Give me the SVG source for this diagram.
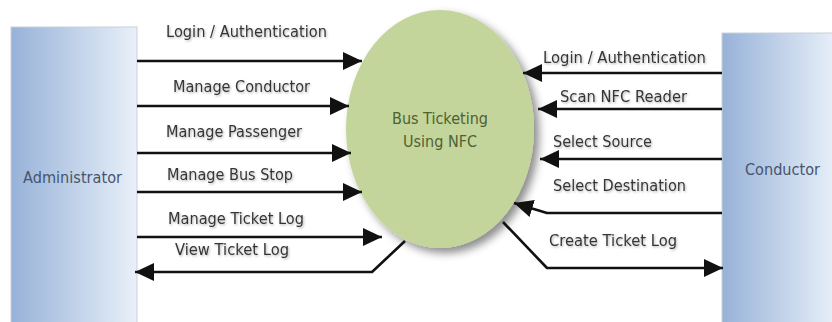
<svg xmlns="http://www.w3.org/2000/svg" width="832" height="322" viewBox="0 0 832 322">
<style>
.lbl{font-family:"DejaVu Sans","Verdana",sans-serif;font-size:15.5px;fill:#363636;filter:url(#tsh)}
.ent{font-family:"DejaVu Sans","Verdana",sans-serif;font-size:15.5px;fill:#46556c}
.proc{font-family:"DejaVu Sans","Verdana",sans-serif;font-size:15.5px;fill:#4f6133}
.flow{fill:none;stroke:#111;stroke-width:2.6;stroke-linejoin:round}
.box{fill:url(#bg);stroke:#c9d0da;stroke-width:1}
</style>
<defs>
<linearGradient id="bg" x1="0" y1="0" x2="1" y2="0">
<stop offset="0" stop-color="#97b2d8"/>
<stop offset="1" stop-color="#e9f0f9"/>
</linearGradient>
<filter id="tsh" x="-10%" y="-30%" width="120%" height="160%">
<feDropShadow dx="1" dy="1.2" stdDeviation="0.8" flood-color="#000" flood-opacity="0.3"/>
</filter>
<filter id="esh" x="-10%" y="-10%" width="130%" height="130%">
<feDropShadow dx="5" dy="5" stdDeviation="4" flood-color="#000" flood-opacity="0.45"/>
</filter>
<marker id="ah" markerUnits="userSpaceOnUse" markerWidth="22" markerHeight="22" viewBox="0 0 22 22" refX="19" refY="11" orient="auto">
<path d="M0,2 L19,11 L0,20 Z" fill="#111"/>
</marker>
</defs>
<rect width="832" height="322" fill="#fff"/>

<g id="administrator">
<rect class="box" x="11" y="27" width="126" height="300"/>
<text class="ent" x="23" y="183" textLength="99" lengthAdjust="spacingAndGlyphs">Administrator</text>
</g>

<g id="conductor">
<rect class="box" x="722" y="33" width="115" height="300"/>
<text class="ent" x="745" y="175" textLength="75" lengthAdjust="spacingAndGlyphs">Conductor</text>
</g>

<g id="process">
<ellipse cx="440" cy="129" rx="94" ry="119" fill="#c3d59b" filter="url(#esh)"/>
<text class="proc" x="392" y="124" textLength="96" lengthAdjust="spacingAndGlyphs">Bus Ticketing</text>
<text class="proc" x="403" y="147" textLength="74" lengthAdjust="spacingAndGlyphs">Using NFC</text>
</g>

<g id="connectors">
<path class="flow" d="M137,61 L362,61" marker-end="url(#ah)"/>
<path class="flow" d="M137,106 L349,106" marker-end="url(#ah)"/>
<path class="flow" d="M137,153 L351,153" marker-end="url(#ah)"/>
<path class="flow" d="M137,192 L362,192" marker-end="url(#ah)"/>
<path class="flow" d="M137,237 L382,237" marker-end="url(#ah)"/>
<path class="flow" d="M405,241 L372,272 L135,272" marker-end="url(#ah)"/>
<path class="flow" d="M722,73 L523,73" marker-end="url(#ah)"/>
<path class="flow" d="M722,109 L538,109" marker-end="url(#ah)"/>
<path class="flow" d="M722,159 L540,159" marker-end="url(#ah)"/>
<path class="flow" d="M722,213 L547,213 L514,203" marker-end="url(#ah)"/>
<path class="flow" d="M503,222 L547,268 L723,268" marker-end="url(#ah)"/>
</g>

<g id="labels">
<text class="lbl" x="166" y="37" textLength="161" lengthAdjust="spacingAndGlyphs">Login / Authentication</text>
<text class="lbl" x="173" y="92" textLength="137" lengthAdjust="spacingAndGlyphs">Manage Conductor</text>
<text class="lbl" x="166" y="137" textLength="136" lengthAdjust="spacingAndGlyphs">Manage Passenger</text>
<text class="lbl" x="167" y="180" textLength="126" lengthAdjust="spacingAndGlyphs">Manage Bus Stop</text>
<text class="lbl" x="168" y="224" textLength="136" lengthAdjust="spacingAndGlyphs">Manage Ticket Log</text>
<text class="lbl" x="175" y="255" textLength="114" lengthAdjust="spacingAndGlyphs">View Ticket Log</text>
<text class="lbl" x="543" y="63" textLength="163" lengthAdjust="spacingAndGlyphs">Login / Authentication</text>
<text class="lbl" x="560" y="102" textLength="127" lengthAdjust="spacingAndGlyphs">Scan NFC Reader</text>
<text class="lbl" x="553" y="147" textLength="99" lengthAdjust="spacingAndGlyphs">Select Source</text>
<text class="lbl" x="553" y="191" textLength="133" lengthAdjust="spacingAndGlyphs">Select Destination</text>
<text class="lbl" x="549" y="246" textLength="128" lengthAdjust="spacingAndGlyphs">Create Ticket Log</text>
</g>
</svg>
